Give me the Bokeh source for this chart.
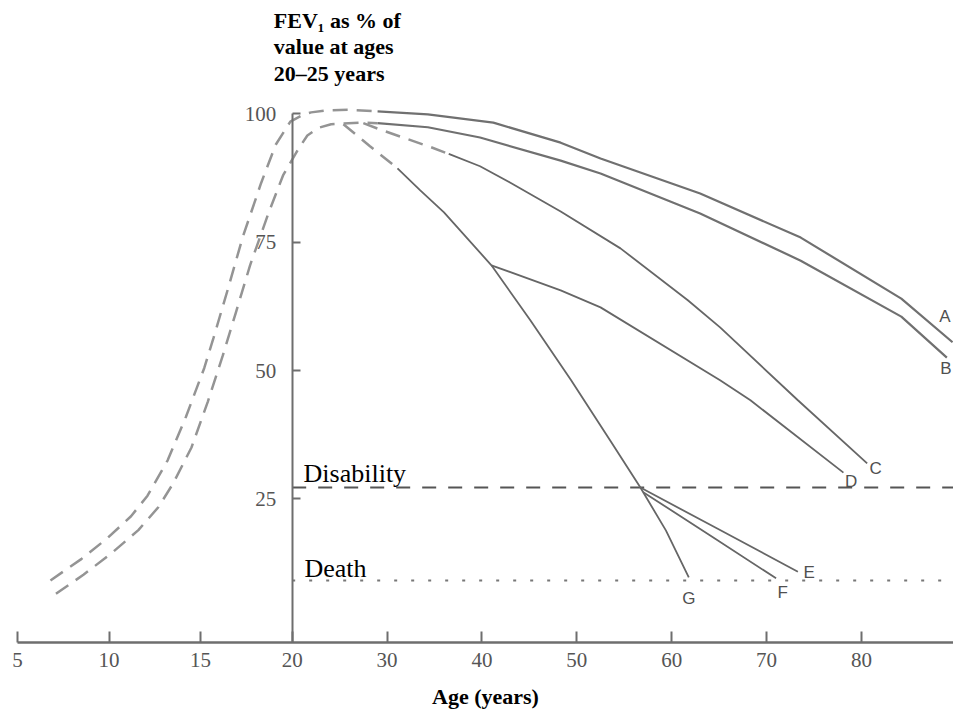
import numpy as np
from bokeh.plotting import figure
from bokeh.models import Range1d, LinearAxis, FixedTicker, Label
from bokeh.core.properties import value
from bokeh.embed import file_html
from bokeh.resources import INLINE

# ---------------- data (age in years, FEV1 as % of value at ages 20-25) ----------------
x_tick_ages = [5, 10, 15, 20, 30, 40, 50, 60, 70, 80]
y_ticks = [25, 50, 75, 100]

# growth curves (dashed)
grow_outer_age = [6.8, 8.5, 9.9, 11.2, 12.1, 13.2, 14.2, 15.2, 15.7, 16.5, 17.3, 18.3, 19.1, 19.9, 21.1, 22.0, 23.6, 25.9, 29.0]
grow_outer_fev = [9.1, 13.3, 17.3, 21.6, 25.6, 32.5, 41.0, 50.5, 56.3, 66.0, 76.0, 86.5, 94.0, 98.5, 99.8, 100.3, 100.7, 100.8, 100.5]
grow_inner_age = [7.1, 8.6, 10.1, 11.6, 12.7, 13.5, 14.5, 15.4, 16.2, 16.9, 17.7, 18.7, 19.5, 20.6, 21.6, 22.8, 24.1, 27.2, 29.0]
grow_inner_fev = [6.5, 10.2, 14.3, 18.9, 23.4, 28.0, 35.0, 44.0, 52.8, 61.0, 70.5, 80.6, 88.0, 93.0, 95.8, 97.3, 98.0, 98.3, 98.2]

# decline curves
a_age = [29.0, 34.3, 41.2, 48.3, 52.5, 63.0, 73.6, 84.2, 89.6]
a_fev = [100.5, 99.9, 98.3, 94.4, 91.3, 84.5, 75.9, 64.0, 55.5]
b_age = [29.0, 34.3, 39.8, 48.3, 52.5, 63.0, 73.6, 84.2, 89.0]
b_fev = [98.2, 97.4, 95.4, 90.9, 88.4, 80.6, 71.4, 60.5, 52.5]
c_dash_age = [27.5, 29.5, 32.0, 34.5, 36.5]
c_dash_fev = [98.2, 96.8, 95.2, 93.6, 92.2]
c_age = [36.5, 39.8, 43.0, 48.3, 54.6, 61.7, 65.1, 73.3, 80.6]
c_fev = [92.2, 89.8, 86.6, 81.0, 73.8, 63.7, 58.4, 44.2, 31.9]
d_age = [41.0, 48.3, 52.5, 65.1, 68.3, 78.1]
d_fev = [70.5, 65.6, 62.3, 48.1, 44.2, 30.1]
g_dash_age = [25.4, 28.2, 31.1]
g_dash_fev = [98.0, 93.7, 89.4]
g_age = [31.1, 33.5, 36.0, 41.0, 45.1, 49.4, 53.5, 56.7, 59.4, 61.8]
g_fev = [89.4, 85.1, 80.8, 70.5, 59.8, 48.1, 36.4, 27.2, 18.8, 9.7]
e_age = [56.7, 64.8, 73.3]
e_fev = [27.2, 19.2, 10.8]
f_age = [57.0, 64.1, 71.0]
f_fev = [26.3, 17.8, 9.5]

disability_level = 27.2
death_level = 9.1
threshold_start_age = 20
start_age, end_age = 5, 89.7

curve_letters = ["A", "B", "C", "D", "E", "F", "G"]
letter_age = [88.8, 88.9, 81.5, 78.9, 74.5, 71.7, 61.8]
letter_fev = [60.5, 50.4, 30.9, 28.4, 10.6, 6.7, 5.6]


def age_to_u(a):
    """Axis spacing of the original: 5-year steps up to age 20 (drawn slightly
    narrower), then 10-year steps; u = 0 at age 20."""
    a = np.asarray(a, dtype=float)
    return np.where(a <= 20, (a - 20.0) / 5.0 * 0.965, (a - 20.0) / 10.0)


x_start, x_end = float(age_to_u(start_age)), float(age_to_u(end_age))
y_start, y_end = -3.0, 122.1

p = figure(frame_width=936, frame_height=642, output_backend="svg", toolbar_location=None,
           x_range=Range1d(x_start, x_end), y_range=Range1d(y_start, y_end),
           y_axis_location=None, min_border_left=17, min_border_right=0, min_border_top=0,
           background_fill_color="white", border_fill_color="white")
p.outline_line_color = None
p.xgrid.visible = False
p.ygrid.visible = False

axis_color = "#6e6e6e"
label_font = "Liberation Serif"

# x axis
xa = p.xaxis[0]
xa.ticker = FixedTicker(ticks=[float(v) for v in age_to_u(x_tick_ages)])
xa.major_label_overrides = {float(u): str(a) for u, a in zip(age_to_u(x_tick_ages), x_tick_ages)}
xa.axis_line_color = axis_color
xa.axis_line_width = 2.5
xa.major_tick_line_color = axis_color
xa.major_tick_line_width = 2
xa.major_tick_in = 11
xa.major_tick_out = 0
xa.minor_tick_line_color = None
xa.major_label_text_font = label_font
xa.major_label_text_font_size = "21px"
xa.major_label_text_color = "#555555"
xa.major_label_standoff = 10
xa.axis_label = "Age (years)"
xa.axis_label_text_font = label_font
xa.axis_label_text_font_style = "bold"
xa.axis_label_text_font_size = "22px"
xa.axis_label_text_color = "black"
xa.axis_label_standoff = 14

# y axis standing at age 20
ya = LinearAxis(fixed_location=float(age_to_u(threshold_start_age)), ticker=FixedTicker(ticks=y_ticks),
                bounds=(y_start, max(y_ticks)))
ya.axis_line_color = axis_color
ya.axis_line_width = 2
ya.major_tick_line_color = axis_color
ya.major_tick_line_width = 2
ya.major_tick_in = 8
ya.major_tick_out = 0
ya.minor_tick_line_color = None
ya.major_label_text_font = label_font
ya.major_label_text_font_size = "21px"
ya.major_label_text_color = "#555555"
ya.major_label_standoff = 16
p.add_layout(ya, "left")

# threshold lines
p.line(age_to_u([threshold_start_age, end_age]), [disability_level, disability_level],
       line_color="#555555", line_width=2, line_dash="14 12")
p.line(age_to_u([threshold_start_age, end_age]), [death_level, death_level],
       line_color="#777777", line_width=2, line_dash="3 14")

# growth curves
dash_style = dict(line_color="#949494", line_width=2.5, line_dash="15 9")
p.line(age_to_u(grow_outer_age), grow_outer_fev, **dash_style)
p.line(age_to_u(grow_inner_age), grow_inner_fev, **dash_style)
p.line(age_to_u(c_dash_age), c_dash_fev, **dash_style)
p.line(age_to_u(g_dash_age), g_dash_fev, **dash_style)

# decline curves
thick = dict(line_color="#707070", line_width=2.2)
thin = dict(line_color="#666666", line_width=1.8)
p.line(age_to_u(a_age), a_fev, **thick)
p.line(age_to_u(b_age), b_fev, **thick)
p.line(age_to_u(c_age), c_fev, **thin)
p.line(age_to_u(d_age), d_fev, **thin)
p.line(age_to_u(g_age), g_fev, **thin)
p.line(age_to_u(e_age), e_fev, **thin)
p.line(age_to_u(f_age), f_fev, **thin)

# curve letters
p.text(x=age_to_u(letter_age), y=letter_fev, text=curve_letters,
       text_font=value("Liberation Sans"), text_font_size="17px", text_color="#505050",
       text_align="center", text_baseline="middle")

# annotations
p.add_layout(Label(x=float(age_to_u(21.2)), y=29.9, text="Disability", text_font=label_font,
                   text_font_size="26px", text_color="black", text_baseline="alphabetic"))
p.add_layout(Label(x=float(age_to_u(21.3)), y=11.4, text="Death", text_font=label_font,
                   text_font_size="26px", text_color="black", text_baseline="alphabetic"))
title_lines = ["FEV\u2081 as % of", "value at ages", "20\u201325 years"]
title_base = [118.3, 113.2, 107.9]
for t, yb in zip(title_lines, title_base):
    p.add_layout(Label(x=float(age_to_u(19.0)), y=yb, text=t, text_font=label_font,
                       text_font_style="bold", text_font_size="22px", text_color="black",
                       text_baseline="alphabetic"))

open("out.html", "w").write(file_html(p, INLINE))
